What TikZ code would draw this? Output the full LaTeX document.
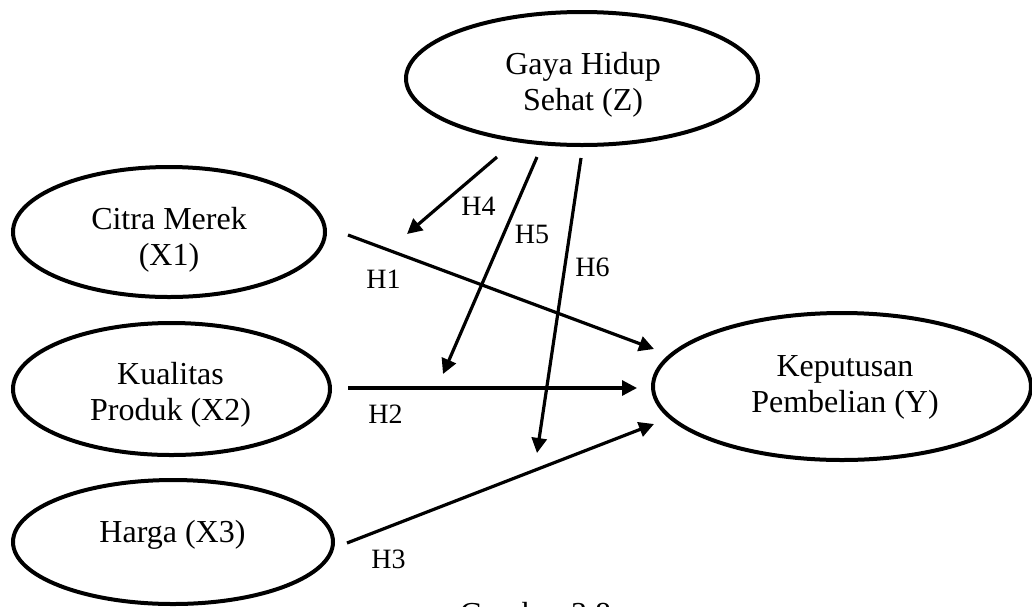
\documentclass[tikz,border=0pt]{standalone}
\usepackage{fontspec}
\setmainfont{Liberation Serif}
\usetikzlibrary{shapes.geometric,arrows.meta}
\begin{document}
\begin{tikzpicture}[x=0.5pt,y=-0.5pt,
  oval/.style={draw,ellipse,line width=2pt,inner sep=0pt},
  ovaltext/.style={align=center,font=\fontsize{16pt}{18pt}\selectfont,inner sep=0pt},
  hlabel/.style={anchor=base,inner sep=0pt,font=\fontsize{14pt}{16pt}\selectfont},
  conn/.style={line width=1.6pt,-{Triangle[length=7.5pt,width=7.5pt]}}]
\useasboundingbox (0,0) rectangle (1032,606);
% ellipses
\node[oval,minimum width=176pt,minimum height=66.5pt] (gz) at (582,78.5) {};
\node[oval,minimum width=156pt,minimum height=65pt] (x1) at (169,232) {};
\node[oval,minimum width=158.5pt,minimum height=66pt] (x2) at (171.5,389) {};
\node[oval,minimum width=160pt,minimum height=62pt] (x3) at (173,542) {};
\node[oval,minimum width=189pt,minimum height=73.5pt] (y) at (842,386.5) {};
% texts
\node[ovaltext] (gzt) at (583,84.5) {Gaya Hidup\\Sehat (Z)};
\node[ovaltext] (x1t) at (169,239.5) {Citra Merek\\(X1)};
\node[ovaltext] (x2t) at (170.5,394.5) {Kualitas\\Produk (X2)};
\node[ovaltext] (x3t) at (172.5,534.5) {Harga (X3)};
\node[ovaltext] (yt) at (845,387.5) {Keputusan\\Pembelian (Y)};
% connector endpoints
\coordinate (h4s) at (497,157); \coordinate (h4e) at (407,234);
\coordinate (h5s) at (537,157); \coordinate (h5e) at (443,374);
\coordinate (h6s) at (581,158); \coordinate (h6e) at (537,453);
\coordinate (h1s) at (348,235); \coordinate (h1e) at (654,349);
\coordinate (h2s) at (348,388); \coordinate (h2e) at (637,388);
\coordinate (h3s) at (347,543); \coordinate (h3e) at (654,424);
\draw[conn] (h1s) -- (h1e);
\draw[conn] (h2s) -- (h2e);
\draw[conn] (h3s) -- (h3e);
\draw[conn] (h4s) -- (h4e);
\draw[conn] (h5s) -- (h5e);
\draw[conn] (h6s) -- (h6e);
% labels
\node[hlabel] (l1) at (383.5,288) {H1};
\node[hlabel] (l2) at (385.5,423) {H2};
\node[hlabel] (l3) at (388.5,568) {H3};
\node[hlabel] (l4) at (478.5,215) {H4};
\node[hlabel] (l5) at (532,243) {H5};
\node[hlabel] (l6) at (592.5,276) {H6};
\node[anchor=base,inner sep=0pt,font=\fontsize{16pt}{18pt}\selectfont] (cap) at (535.5,624) {Gambar 3.8};
\end{tikzpicture}
\end{document}
